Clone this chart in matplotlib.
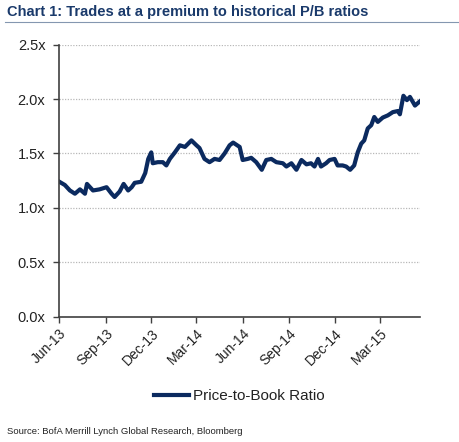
import matplotlib
matplotlib.use("Agg")
import matplotlib.pyplot as plt
import matplotlib.dates as mdates
import numpy as np
import pandas as pd

# --- DATA ---
dates = [
    "2013-06-01", "2013-06-12", "2013-06-22", "2013-07-02", "2013-07-12", "2013-07-22",
    "2013-07-26", "2013-08-07", "2013-08-20", "2013-09-03", "2013-09-13", "2013-09-19",
    "2013-09-29", "2013-10-07", "2013-10-16", "2013-10-23", "2013-10-29", "2013-11-11",
    "2013-11-19", "2013-11-25", "2013-12-01", "2013-12-04", "2013-12-14", "2013-12-24",
    "2013-12-31", "2014-01-07", "2014-01-17", "2014-01-27", "2014-02-06", "2014-02-19",
    "2014-03-01", "2014-03-07", "2014-03-17", "2014-03-27", "2014-04-06", "2014-04-16",
    "2014-04-26", "2014-05-06", "2014-05-13", "2014-05-26", "2014-06-01", "2014-06-11",
    "2014-06-18", "2014-06-28", "2014-07-09", "2014-07-18", "2014-07-28", "2014-08-07",
    "2014-08-20", "2014-08-27", "2014-09-06", "2014-09-16", "2014-09-26", "2014-10-06",
    "2014-10-15", "2014-10-22", "2014-10-29", "2014-11-04", "2014-11-14", "2014-11-21",
    "2014-12-01", "2014-12-07", "2014-12-17", "2014-12-24", "2015-01-01", "2015-01-09",
    "2015-01-16", "2015-01-23", "2015-01-29", "2015-02-05", "2015-02-12", "2015-02-18",
    "2015-02-25", "2015-03-07", "2015-03-17", "2015-03-27", "2015-04-06", "2015-04-10",
    "2015-04-17", "2015-04-24", "2015-04-30", "2015-05-10", "2015-05-20",
]
pb_ratio = [
    1.24, 1.21, 1.16, 1.13, 1.17, 1.13,
    1.22, 1.16, 1.17, 1.19, 1.13, 1.10,
    1.15, 1.22, 1.16, 1.19, 1.23, 1.24,
    1.32, 1.45, 1.51, 1.41, 1.42, 1.42,
    1.39, 1.45, 1.51, 1.575, 1.56, 1.62,
    1.575, 1.55, 1.45, 1.42, 1.45, 1.44,
    1.50, 1.575, 1.60, 1.56, 1.44, 1.45,
    1.46, 1.42, 1.35, 1.44, 1.45, 1.42,
    1.41, 1.38, 1.41, 1.35, 1.44, 1.40,
    1.41, 1.38, 1.45, 1.38, 1.41, 1.44,
    1.45, 1.39, 1.39, 1.38, 1.35, 1.39,
    1.51, 1.59, 1.62, 1.73, 1.76, 1.835,
    1.79, 1.83, 1.85, 1.88, 1.89, 1.86,
    2.03, 1.99, 2.02, 1.94, 1.98,
]
x_start, x_end = "2013-06-01", "2015-05-20"
y_ticks = [0.0, 0.5, 1.0, 1.5, 2.0, 2.5]

dates = pd.to_datetime(dates)
navy = "#0b2a5f"

plt.rcParams['font.family'] = ['Liberation Sans', 'DejaVu Sans']

fig = plt.figure(figsize=(4.6, 4.42), dpi=100)
ax = fig.add_axes([0.129, 0.2835, 0.784, 0.6155])

ax.plot(dates, pb_ratio, color=navy, lw=3.0, solid_joinstyle='round',
        label='Price-to-Book Ratio')

ax.set_xlim(pd.Timestamp(x_start), pd.Timestamp(x_end))
ax.set_ylim(0, 2.5)
ax.set_yticks(y_ticks)
ax.set_yticklabels([f"{v:.1f}x" for v in y_ticks])
ax.yaxis.grid(True, color='#b8b8b8', linestyle=(0, (1, 1.2)), lw=0.9)
ax.set_axisbelow(True)

ax.xaxis.set_major_locator(mdates.MonthLocator(bymonth=[3, 6, 9, 12], bymonthday=1))
ax.xaxis.set_major_formatter(mdates.DateFormatter('%b-%y'))
for lab in ax.get_xticklabels():
    lab.set_rotation(45)
    lab.set_ha('right')
    lab.set_rotation_mode('anchor')

ax.tick_params(axis='x', direction='out', length=4, width=1, colors='#404040',
               labelsize=10, labelcolor='#222222', pad=3)
ax.tick_params(axis='y', direction='out', length=4, width=1, colors='#404040',
               labelsize=10.5, labelcolor='#222222', pad=6)
for s in ['top', 'right']:
    ax.spines[s].set_visible(False)
for s in ['left', 'bottom']:
    ax.spines[s].set_color('#404040')
    ax.spines[s].set_linewidth(1.2)

# title + rule
fig.text(0.015, 0.973, 'Chart 1: Trades at a premium to historical P/B ratios',
         fontweight='bold', fontsize=10.5, color='#1a3a6b', va='center', ha='left')
fig.add_artist(plt.Line2D([0.01, 0.995], [0.951, 0.951], color='#8497b0', lw=0.8))

leg = fig.legend(loc='center', bbox_to_anchor=(0.52, 0.104), frameon=False,
                 fontsize=11, handlelength=2.3, handletextpad=0.3)
for t in leg.get_texts():
    t.set_color('#222222')

fig.text(0.015, 0.013, 'Source: BofA Merrill Lynch Global Research, Bloomberg',
         fontsize=6.8, color='#222222', ha='left', va='bottom')

fig.savefig('out.png', dpi=100)
